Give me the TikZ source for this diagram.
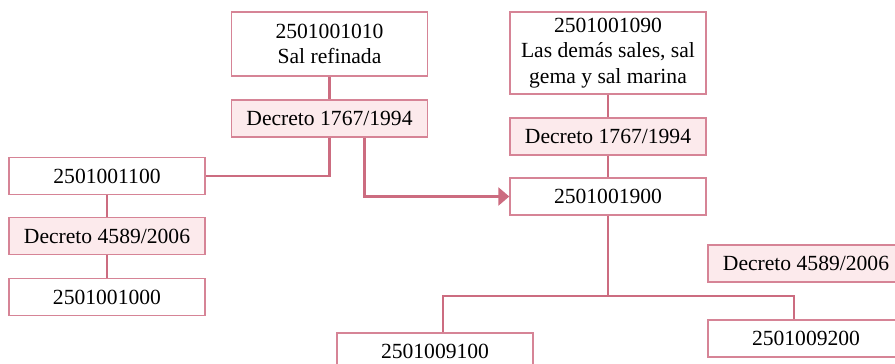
\documentclass[tikz,border=0pt]{standalone}
\usepackage{fontspec}
\setmainfont{Liberation Serif}
\usepackage{xcolor}
\definecolor{rosaline}{RGB}{204,108,128}
\definecolor{rosaedge}{RGB}{214,132,150}
\definecolor{rosafill}{RGB}{252,234,236}
\usetikzlibrary{arrows.meta, positioning}

\begin{document}
\begin{tikzpicture}[
          x=0.5pt, y=-0.5pt,
          code/.style={
              draw=rosaedge,
              fill=white,
              line width=0.7pt,
              minimum width=98pt,
              minimum height=18.5pt,
              inner sep=1pt,
              font=\fontsize{10.8}{12.3}\selectfont,
              align=center
            },
          decreto/.style={
              code,
              fill=rosafill
            },
          link/.style={rosaline, line width=1.3pt},
          arr/.style={-{Triangle[length=5.5pt, width=9pt]}, rosaline, line width=1.3pt}
        ]
        \useasboundingbox (0,0) rectangle (895,364);

        % left branch
        \node[code, minimum height=32pt] (sal) at (329.5,44) {2501001010\\Sal refinada};
        \node[decreto] (decA) at (329.5,118.5) {Decreto 1767/1994};
        \node[code] (n1100) at (107,176) {2501001100};
        \node[decreto] (decB) at (107,236) {Decreto 4589/2006};
        \node[code] (n1000) at (107,297) {2501001000};

        % right branch
        \node[code, minimum height=41pt, font=\fontsize{10.8}{12.8}\selectfont] (sales) at (608,53)
            {2501001090\\Las demás sales, sal\\gema y sal marina};
        \node[decreto] (decC) at (608,136.5) {Decreto 1767/1994};
        \node[code] (n1900) at (608,196.5) {2501001900};
        \node[decreto] (decD) at (806,263.5) {Decreto 4589/2006};
        \node[code] (n9100) at (435,351.5) {2501009100};
        \node[code] (n9200) at (806,338.5) {2501009200};

        \coordinate (split) at (608,296);

        \draw[link] (sal) -- (decA);
        \draw[link] (decA.south) |- (n1100.east);
        \draw[arr] ([xshift=17.5pt]decA.south) |- (n1900.west);
        \draw[link] (n1100) -- (decB);
        \draw[link] (decB) -- (n1000);

        \draw[link] (sales) -- (decC);
        \draw[link] (decC) -- (n1900);
        \draw[link] (n1900) -- (split);
        \draw[link] (split) -| ([xshift=4pt]n9100.north);
        \draw[link] (split) -| ([xshift=-6pt]n9200.north);
      \end{tikzpicture}
\end{document}
